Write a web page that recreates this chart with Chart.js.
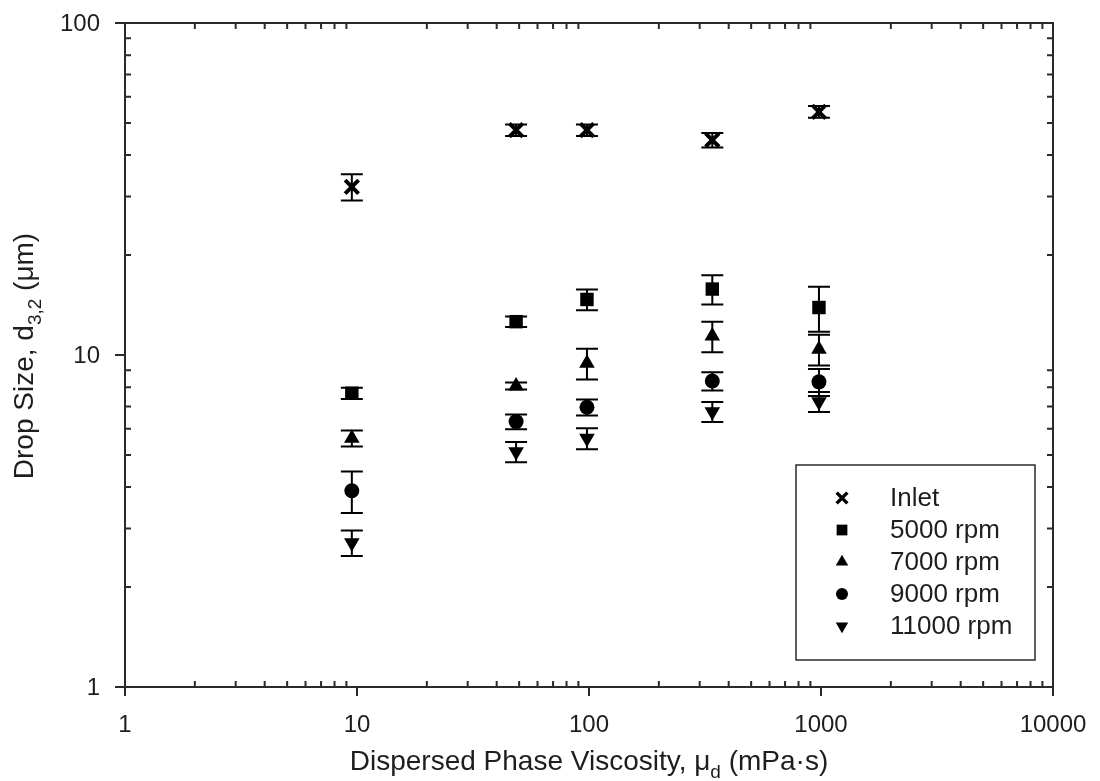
<!DOCTYPE html>
<html>
<head>
<meta charset="utf-8">
<script src="https://cdn.jsdelivr.net/npm/chart.js@4.4.1/dist/chart.umd.min.js"></script>
<style>
  body { margin: 0; background: #fff; }
</style>
</head>
<body>
<canvas id="dropChart" width="1100" height="781"></canvas>
<script>
// values
const viscosity = [9.5, 48.5, 98, 340, 980];

const inlet    = [32.1, 47.6, 47.6, 44.4, 54.0];
const inletErr = [2.9, 1.9, 1.9, 2.2, 2.2];

const rpm5000    = [7.67, 12.6, 14.7, 15.8, 13.9];
const rpm5000Err = [0.3, 0.45, 1.05, 1.6, 2.15];

const rpm7000    = [5.61, 8.07, 9.44, 11.4, 10.4];
const rpm7000Err = [0.31, 0.2, 1.0, 1.2, 1.1];

const rpm9000    = [3.9, 6.3, 6.96, 8.35, 8.3];
const rpm9000Err = [0.56, 0.32, 0.39, 0.53, 0.78];

const rpm11000    = [2.72, 5.11, 5.61, 6.75, 7.23];
const rpm11000Err = [0.24, 0.36, 0.41, 0.47, 0.5];

const seriesNames = ['Inlet', '5000 rpm', '7000 rpm', '9000 rpm', '11000 rpm'];
const xTicks = [1, 10, 100, 1000, 10000];
const yTicks = [1, 10, 100];

const FONT = "'Liberation Sans', Arial, sans-serif";
const INK = '#1e1e1e';

const series = [
  { values: inlet, errs: inletErr, style: 'crossRot', radius: 9.5, border: 4, rot: 0 },
  { values: rpm5000, errs: rpm5000Err, style: 'rect', radius: 9.5, border: 0, rot: 0 },
  { values: rpm7000, errs: rpm7000Err, style: 'triangle', radius: 9, border: 0, rot: 0 },
  { values: rpm9000, errs: rpm9000Err, style: 'circle', radius: 7.5, border: 0, rot: 0 },
  { values: rpm11000, errs: rpm11000Err, style: 'triangle', radius: 9, border: 0, rot: 180 }
];

const datasets = series.map((s, i) => ({
  label: seriesNames[i],
  data: viscosity.map((v, j) => ({ x: v, y: s.values[j] })),
  pointStyle: s.style,
  pointRadius: s.radius,
  pointRotation: s.rot,
  pointBorderWidth: s.border,
  pointBackgroundColor: '#000',
  pointBorderColor: '#000',
  showLine: false
}));

// error bars under the markers
const errorBars = {
  id: 'errorBars',
  beforeDatasetsDraw(chart) {
    const ctx = chart.ctx;
    const ys = chart.scales.y;
    ctx.save();
    ctx.strokeStyle = '#000';
    ctx.lineWidth = 2;
    series.forEach((s, i) => {
      const meta = chart.getDatasetMeta(i);
      meta.data.forEach((pt, j) => {
        const top = ys.getPixelForValue(s.values[j] + s.errs[j]);
        const bot = ys.getPixelForValue(s.values[j] - s.errs[j]);
        ctx.beginPath();
        ctx.moveTo(pt.x, top); ctx.lineTo(pt.x, bot);
        ctx.moveTo(pt.x - 11, top); ctx.lineTo(pt.x + 11, top);
        ctx.moveTo(pt.x - 11, bot); ctx.lineTo(pt.x + 11, bot);
        ctx.stroke();
      });
    });
    ctx.restore();
  }
};

// box frame, major ticks outside, minor ticks inside, tick labels
const axisFrame = {
  id: 'axisFrame',
  afterDraw(chart) {
    const ctx = chart.ctx;
    const a = chart.chartArea;
    const xs = chart.scales.x, ys = chart.scales.y;
    ctx.save();
    ctx.strokeStyle = '#2a2a2a';
    ctx.lineWidth = 2;
    ctx.strokeRect(a.left, a.top, a.right - a.left, a.bottom - a.top);
    ctx.beginPath();
    xTicks.forEach(v => {
      const px = xs.getPixelForValue(v);
      ctx.moveTo(px, a.bottom); ctx.lineTo(px, a.bottom + 9);
    });
    yTicks.forEach(v => {
      const py = ys.getPixelForValue(v);
      ctx.moveTo(a.left, py); ctx.lineTo(a.left - 10, py);
    });
    for (let d = 0; d < xTicks.length - 1; d++) {
      for (let m = 2; m <= 9; m++) {
        const px = xs.getPixelForValue(xTicks[d] * m);
        ctx.moveTo(px, a.bottom); ctx.lineTo(px, a.bottom - 6);
        ctx.moveTo(px, a.top); ctx.lineTo(px, a.top + 6);
      }
    }
    for (let d = 0; d < yTicks.length - 1; d++) {
      for (let m = 2; m <= 9; m++) {
        const py = ys.getPixelForValue(yTicks[d] * m);
        ctx.moveTo(a.left, py); ctx.lineTo(a.left + 6, py);
        ctx.moveTo(a.right, py); ctx.lineTo(a.right - 6, py);
      }
    }
    ctx.stroke();

    ctx.fillStyle = INK;
    ctx.font = '24px ' + FONT;
    ctx.textBaseline = 'middle';
    ctx.textAlign = 'center';
    xTicks.forEach(v => ctx.fillText(String(v), xs.getPixelForValue(v), a.bottom + 38));
    ctx.textAlign = 'right';
    yTicks.forEach(v => ctx.fillText(String(v), a.left - 25, ys.getPixelForValue(v) + 1));
    ctx.restore();
  }
};

function drawRich(ctx, parts, size) {
  const subSize = Math.round(size * 0.68);
  let w = 0;
  parts.forEach(p => {
    ctx.font = (p.sub ? subSize : size) + 'px ' + FONT;
    w += ctx.measureText(p.t).width;
  });
  let x = -w / 2;
  parts.forEach(p => {
    ctx.font = (p.sub ? subSize : size) + 'px ' + FONT;
    ctx.fillText(p.t, x, p.sub ? size * 0.3 : 0);
    x += ctx.measureText(p.t).width;
  });
}

const axisTitles = {
  id: 'axisTitles',
  afterDraw(chart) {
    const ctx = chart.ctx;
    const a = chart.chartArea;
    ctx.save();
    ctx.fillStyle = INK;
    ctx.textBaseline = 'alphabetic';
    ctx.textAlign = 'left';
    ctx.translate(589, 770);
    drawRich(ctx, [{ t: 'Dispersed Phase Viscosity, \u03bc' }, { t: 'd', sub: true }, { t: ' (mPa\u00b7s)' }], 28);
    ctx.restore();

    ctx.save();
    ctx.fillStyle = INK;
    ctx.textBaseline = 'alphabetic';
    ctx.textAlign = 'left';
    ctx.translate(33, 356);
    ctx.rotate(-Math.PI / 2);
    drawRich(ctx, [{ t: 'Drop Size, d' }, { t: '3,2', sub: true }, { t: ' (\u03bcm)' }], 28);
    ctx.restore();
  }
};

function drawMarker(ctx, style, rot, x, y, r) {
  ctx.save();
  ctx.translate(x, y);
  ctx.rotate(rot * Math.PI / 180);
  ctx.fillStyle = '#000';
  ctx.strokeStyle = '#000';
  ctx.beginPath();
  if (style === 'crossRot') {
    const s = r * Math.SQRT1_2;
    ctx.lineWidth = 3.5;
    ctx.moveTo(-s, -s); ctx.lineTo(s, s);
    ctx.moveTo(-s, s); ctx.lineTo(s, -s);
    ctx.stroke();
  } else if (style === 'rect') {
    const s = r * Math.SQRT1_2;
    ctx.fillRect(-s, -s, 2 * s, 2 * s);
  } else if (style === 'triangle') {
    ctx.moveTo(0, -r);
    ctx.lineTo(r * Math.sin(2 * Math.PI / 3), -r * Math.cos(2 * Math.PI / 3));
    ctx.lineTo(r * Math.sin(4 * Math.PI / 3), -r * Math.cos(4 * Math.PI / 3));
    ctx.closePath();
    ctx.fill();
  } else {
    ctx.arc(0, 0, r, 0, Math.PI * 2);
    ctx.fill();
  }
  ctx.restore();
}

const legendBox = {
  id: 'legendBox',
  afterDraw(chart) {
    const ctx = chart.ctx;
    ctx.save();
    ctx.strokeStyle = '#2a2a2a';
    ctx.lineWidth = 1.5;
    ctx.strokeRect(796, 465, 239, 195);
    ctx.font = '26px ' + FONT;
    ctx.textBaseline = 'middle';
    ctx.textAlign = 'left';
    series.forEach((s, i) => {
      const y = 498 + i * 32;
      drawMarker(ctx, s.style, s.rot, 842, y, s.radius * 0.8);
      ctx.fillStyle = INK;
      ctx.fillText(seriesNames[i], 890, y + 1);
    });
    ctx.restore();
  }
};

const ctx = document.getElementById('dropChart').getContext('2d');
new Chart(ctx, {
  type: 'scatter',
  data: { datasets },
  options: {
    responsive: false,
    animation: false,
    layout: { padding: { left: 0, top: 23, right: 47, bottom: 0 } },
    plugins: {
      legend: { display: false },
      tooltip: { enabled: false }
    },
    scales: {
      x: {
        type: 'logarithmic',
        min: 1, max: 10000,
        border: { display: false },
        grid: { display: false, drawTicks: false },
        ticks: { display: false },
        afterFit(scale) { scale.height = 94; }
      },
      y: {
        type: 'logarithmic',
        min: 1, max: 100,
        border: { display: false },
        grid: { display: false, drawTicks: false },
        ticks: { display: false },
        afterFit(scale) { scale.width = 125; }
      }
    }
  },
  plugins: [errorBars, axisFrame, axisTitles, legendBox]
});
</script>
</body>
</html>
